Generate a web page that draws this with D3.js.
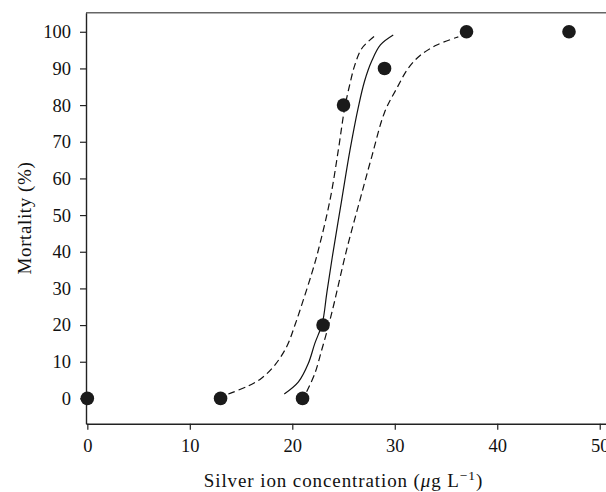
<!DOCTYPE html>
<html><head><meta charset="utf-8">
<script src="https://cdn.jsdelivr.net/npm/d3@7"></script>
<style>
html,body{margin:0;padding:0;background:#fff;}
svg{display:block;}
text{font-family:"Liberation Serif","Times New Roman",serif;}
</style></head>
<body>
<script>
// Observed data
const concentration = [0, 13, 21, 23, 25, 29, 37, 47];
const mortality     = [0, 0, 0, 20, 80, 90, 100, 100];
// Fitted curve (solid)
const fitX = [19.22, 20.6, 21.56, 22.2, 22.93, 23.36, 23.9, 24.82, 25.63, 26.45, 27.05, 27.75, 28.6, 29.85];
const fitY = [1.2, 4.5, 9.5, 15, 20.5, 28.6, 38.5, 54.1, 67.7, 79.5, 86.5, 92.0, 96.4, 99.1];
// Lower-concentration confidence bound (left dashed)
const lowX = [13.76, 15.7, 17.0, 18.3, 19.45, 20.26, 21.07, 21.9, 22.5, 23.68, 24.49, 25.1, 25.6, 26.1, 26.8, 28.07];
const lowY = [1.2, 3.4, 5.5, 9.1, 14.1, 20, 26.8, 34.1, 40, 54.1, 67.7, 79, 85.5, 90.9, 95.5, 98.9];
// Upper-concentration confidence bound (right dashed)
const highX = [21.4, 22.2, 22.87, 23.5, 24.0, 25.3, 26.6, 27.75, 29.0, 30.2, 31.3, 32.5, 34.1, 36.2];
const highY = [1.8, 6.8, 13.2, 19.5, 25, 40.5, 54.1, 65.9, 78, 84.6, 90, 93.6, 96.4, 98.6];
// Ticks
const xTicks = [0, 10, 20, 30, 40, 50];
const yTicks = [0, 10, 20, 30, 40, 50, 60, 70, 80, 90, 100];

const W = 606, H = 492;
const svg = d3.select("body").append("svg").attr("width", W).attr("height", H);

const x = d3.scaleLinear().domain([-0.13, 52]).range([86, 86 + 52.13 * 10.248]);
const y = d3.scaleLinear().domain([-6.9, 105.2]).range([423.7, 12.7]);

// top frame line
svg.append("line").attr("x1", 86).attr("x2", W).attr("y1", y(105.2)).attr("y2", y(105.2))
  .attr("stroke", "#666").attr("stroke-width", 1.6);

const xAxis = svg.append("g").attr("transform", `translate(0,${y(-6.9)})`)
  .call(d3.axisBottom(x).tickValues(xTicks).tickSizeOuter(0).tickSizeInner(6).tickPadding(9));
const yAxis = svg.append("g").attr("transform", `translate(${x(-0.13)},0)`)
  .call(d3.axisLeft(y).tickValues(yTicks).tickSizeOuter(0).tickSizeInner(6).tickPadding(9));
[xAxis, yAxis].forEach(g => {
  g.selectAll("path.domain").attr("stroke", "#222").attr("stroke-width", 1.4);
  g.selectAll(".tick line").attr("stroke", "#222").attr("stroke-width", 1.2);
  g.selectAll(".tick text").attr("fill", "#111").style("font-size", "18.5px")
    .style("font-family", '"Liberation Serif","Times New Roman",serif');
});
xAxis.selectAll(".tick text").attr("dy", "0.71em");

const line = d3.line().x(d => x(d[0])).y(d => y(d[1])).curve(d3.curveCatmullRom.alpha(0.5));
const zip = (a, b) => a.map((v, i) => [v, b[i]]);

svg.append("path").datum(zip(lowX, lowY)).attr("d", line)
  .attr("fill", "none").attr("stroke", "#111").attr("stroke-width", 1.2).attr("stroke-dasharray", "7,4");
svg.append("path").datum(zip(highX, highY)).attr("d", line)
  .attr("fill", "none").attr("stroke", "#111").attr("stroke-width", 1.2).attr("stroke-dasharray", "7,4");
svg.append("path").datum(zip(fitX, fitY)).attr("d", line)
  .attr("fill", "none").attr("stroke", "#111").attr("stroke-width", 1.2);

svg.append("g").selectAll("circle").data(zip(concentration, mortality)).join("circle")
  .attr("cx", d => x(d[0])).attr("cy", d => y(d[1])).attr("r", 6.8).attr("fill", "#1a1a1a");

// axis titles
const xt = svg.append("text").attr("x", 343.5).attr("y", 487).attr("text-anchor", "middle")
  .attr("fill", "#111").style("font-size", "19px").style("letter-spacing", "0.9px");
xt.append("tspan").text("Silver ion concentration (");
xt.append("tspan").style("font-style", "italic").text("μ");
xt.append("tspan").text("g L");
xt.append("tspan").attr("dy", -7).style("font-size", "13.5px").text("−1");
xt.append("tspan").attr("dy", 7).text(")");

svg.append("text").attr("transform", "translate(31,218) rotate(-90)").attr("text-anchor", "middle")
  .attr("fill", "#111").style("font-size", "19px").style("letter-spacing", "0.6px").text("Mortality (%)");
</script>
</body></html>
